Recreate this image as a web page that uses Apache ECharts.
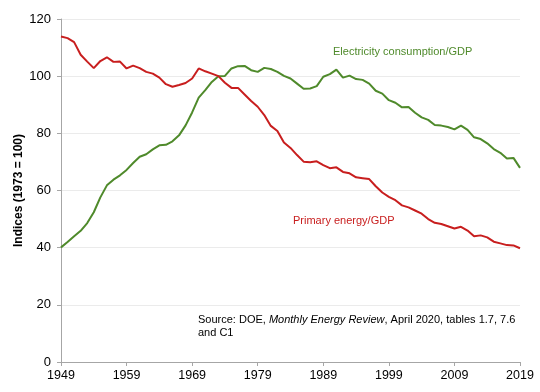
<!DOCTYPE html>
<html>
<head>
<meta charset="utf-8">
<script src="https://cdn.jsdelivr.net/npm/echarts@6/dist/echarts.min.js"></script>
<style>html,body{margin:0;padding:0;background:#fff}#c{width:540px;height:392px}</style>
</head>
<body>
<div id="c"></div>
<script>
const years = [];
for (let y = 1949; y <= 2019; y++) years.push(String(y));

const primaryEnergyGDP = [
  113.9, 113.3, 111.9, 107.5, 105.1, 102.8, 105.3, 106.6, 105.0, 105.1,
  102.7, 103.7, 102.8, 101.5, 100.9, 99.5, 97.2, 96.3, 96.9, 97.6,
  99.2, 102.7, 101.7, 100.9, 100.0, 97.7, 95.9, 95.9, 93.6, 91.3,
  89.3, 86.4, 82.6, 80.8, 76.8, 74.9, 72.4, 70.1, 69.9, 70.2,
  68.9, 67.8, 68.1, 66.5, 66.0, 64.6, 64.3, 64.0, 61.5, 59.3,
  57.8, 56.6, 54.8, 54.1, 53.0, 51.9, 50.0, 48.7, 48.3, 47.5,
  46.7, 47.3, 46.0, 44.0, 44.3, 43.6, 42.1, 41.5, 40.9, 40.8,
  39.8
];

const electricityGDP = [
  40.1, 42.0, 44.0, 45.9, 48.6, 52.4, 57.6, 61.8, 63.8, 65.3,
  67.2, 69.6, 71.8, 72.7, 74.4, 75.8, 76.0, 77.2, 79.3, 82.8,
  87.3, 92.5, 95.1, 98.0, 100.0, 100.1, 102.7, 103.5, 103.6, 102.1,
  101.5, 102.9, 102.5, 101.5, 100.1, 99.2, 97.4, 95.6, 95.7, 96.5,
  99.8, 100.7, 102.3, 99.5, 100.2, 99.0, 98.7, 97.4, 94.9, 93.9,
  91.6, 90.7, 89.1, 89.2, 87.2, 85.6, 84.7, 82.9, 82.7, 82.2,
  81.4, 82.7, 81.2, 78.6, 78.0, 76.5, 74.5, 73.2, 71.2, 71.4,
  67.9
];

const yTicks = { min: 0, max: 120, interval: 20 };
const seriesNames = ['Primary energy/GDP', 'Electricity consumption/GDP'];
const yAxisTitle = 'Indices (1973 = 100)';

const RED = '#c81e1e';
const GREEN = '#4f8a2b';
const FONT = '"Liberation Sans", Arial, sans-serif';

const chart = echarts.init(document.getElementById('c'), null, { renderer: 'canvas' });
chart.setOption({
  animation: false,
  backgroundColor: '#ffffff',
  grid: { left: 61, right: 20, top: 19, bottom: 30, containLabel: false },
  xAxis: {
    type: 'category',
    data: years,
    boundaryGap: false,
    axisLine: { lineStyle: { color: '#a6a6a6', width: 1 } },
    axisTick: { show: true, interval: 9, length: 4, lineStyle: { color: '#a6a6a6' } },
    axisLabel: { interval: 9, color: '#000', fontSize: 12.5, fontFamily: FONT, margin: 7 },
    splitLine: { show: false }
  },
  yAxis: {
    type: 'value',
    min: yTicks.min, max: yTicks.max, interval: yTicks.interval,
    name: yAxisTitle,
    nameLocation: 'middle',
    nameGap: 36,
    nameRotate: 90,
    nameMoveOverlap: false,
    nameTextStyle: { color: '#000', fontSize: 12, fontWeight: 'bold', fontFamily: FONT },
    axisLine: { show: true, lineStyle: { color: '#a6a6a6', width: 1 } },
    axisTick: { show: true, length: 4, lineStyle: { color: '#a6a6a6' } },
    axisLabel: { color: '#000', fontSize: 13, fontFamily: FONT, margin: 10 },
    splitLine: { show: true, lineStyle: { color: '#ebebeb', width: 1 } }
  },
  series: [
    {
      name: seriesNames[0], type: 'line', data: primaryEnergyGDP,
      showSymbol: false, symbol: 'none',
      lineStyle: { color: RED, width: 2 }, itemStyle: { color: RED }, z: 3
    },
    {
      name: seriesNames[1], type: 'line', data: electricityGDP,
      showSymbol: false, symbol: 'none',
      lineStyle: { color: GREEN, width: 2 }, itemStyle: { color: GREEN }, z: 2
    }
  ],
  graphic: [
    { type: 'text', left: 333, top: 46,
      style: { text: seriesNames[1], fill: GREEN, font: '11px ' + FONT } },
    { type: 'text', left: 293, top: 215,
      style: { text: seriesNames[0], fill: RED, font: '11px ' + FONT } },
    { type: 'text', left: 198, top: 314,
      style: {
        text: '{n|Source: DOE, }{i|Monthly Energy Review}{n|, April 2020, tables 1.7, 7.6}\n{n|and C1}',
        rich: {
          n: { fill: '#000', font: '11px ' + FONT, lineHeight: 13 },
          i: { fill: '#000', font: 'italic 11px ' + FONT, lineHeight: 13 }
        }
      } }
  ]
});
</script>
</body>
</html>
